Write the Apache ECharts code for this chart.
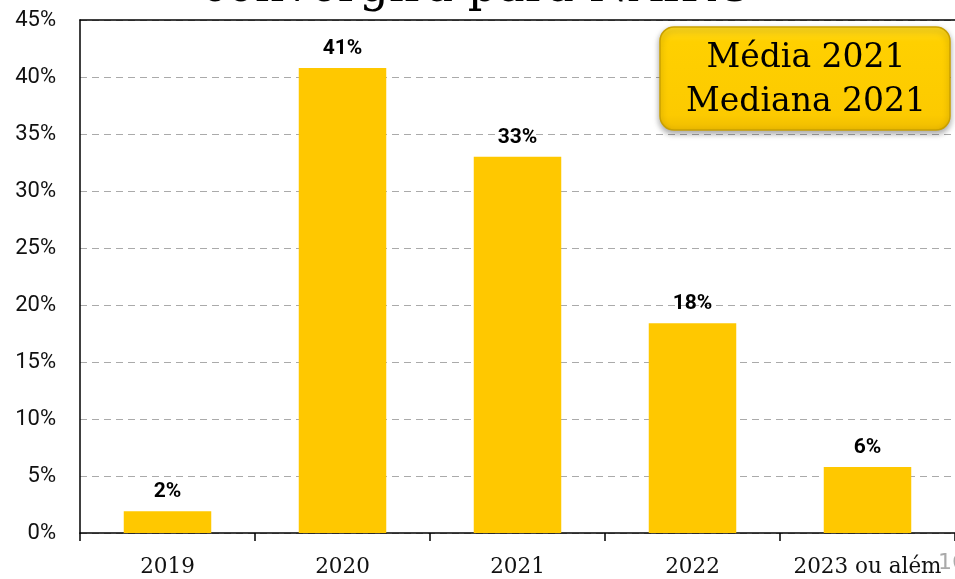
<!DOCTYPE html>
<html>
<head>
<meta charset="utf-8">
<script src="https://cdn.jsdelivr.net/npm/echarts@6/dist/echarts.min.js"></script>
<style>
  html, body { margin: 0; padding: 0; background: #fff; }
  #chart { width: 955px; height: 579px; }
</style>
</head>
<body>
<div id="chart"></div>
<script>
// anos e participação das respostas
var categories = ['2019', '2020', '2021', '2022', '2023 ou além']
var values = [1.9, 40.8, 33.0, 18.4, 5.8]
var labels = ['2%', '41%', '33%', '18%', '6%']
var yTicks = [0, 5, 10, 15, 20, 25, 30, 35, 40, 45]

var chart = echarts.init(document.getElementById('chart'))

var option = {
  animation: false,
  grid: {
    left: 80,
    right: -7,
    top: 20,
    bottom: 46
  },
  graphic: [
    {
      type: 'text',
      left: 'center',
      top: -34,
      style: {
        text: 'convergirá para NAIRU',
        font: '46px "DejaVu Serif"',
        fill: '#000'
      }
    },
    {
      type: 'rect',
      shape: { x: 660, y: 27, width: 290, height: 103, r: 14 },
      style: {
        fill: new echarts.graphic.LinearGradient(0, 0, 0, 1, [
          { offset: 0, color: '#ffda20' },
          { offset: 0.15, color: '#ffd000' },
          { offset: 0.85, color: '#fcca00' },
          { offset: 1, color: '#eebb00' }
        ]),
        stroke: '#c9a000',
        lineWidth: 1.5,
        shadowBlur: 6,
        shadowOffsetY: 3,
        shadowColor: 'rgba(0,0,0,0.35)'
      },
      z: 10
    },
    {
      type: 'text',
      x: 806,
      y: 80,
      style: {
        text: 'Média 2021\nMediana 2021',
        font: '33px "DejaVu Serif"',
        fill: '#000',
        align: 'center',
        verticalAlign: 'middle',
        lineHeight: 44
      },
      z: 11
    },
    {
      type: 'text',
      x: 938,
      y: 552,
      style: {
        text: '16',
        font: '22px "DejaVu Sans"',
        fill: '#aaa'
      },
      z: 0
    }
  ],
  xAxis: [
    {
      type: 'category',
      data: categories,
      axisLine: { lineStyle: { color: '#000', width: 1.5 } },
      axisTick: { show: true, interval: 0, length: 8, lineStyle: { color: '#000', width: 1.5 } },
      axisLabel: {
        interval: 0,
        color: '#111',
        fontFamily: 'DejaVu Serif',
        fontSize: 21.5,
        margin: 23
      }
    },
    {
      type: 'category',
      position: 'top',
      data: categories,
      axisLine: { lineStyle: { color: '#000', width: 1.5 } },
      axisTick: { show: false },
      axisLabel: { show: false }
    }
  ],
  yAxis: {
    type: 'value',
    min: 0,
    max: 45,
    interval: 5,
    axisLine: { show: true, lineStyle: { color: '#000', width: 1.5 } },
    axisTick: { show: false },
    axisLabel: {
      color: '#111',
      fontFamily: 'Roboto',
      fontSize: 22,
      margin: 24,
      formatter: function (v) {
        return yTicks.indexOf(v) >= 0 ? v + '%' : ''
      }
    },
    splitLine: { lineStyle: { color: '#aaa', type: [7, 5], width: 1 } }
  },
  series: [{
    type: 'bar',
    data: values,
    barWidth: '50%',
    itemStyle: { color: '#ffc800' },
    label: {
      show: true,
      position: 'top',
      distance: 9,
      color: '#000',
      fontFamily: 'Roboto',
      fontWeight: 'bold',
      fontSize: 21,
      formatter: function (p) {
        return labels[p.dataIndex]
      }
    }
  }]
}

chart.setOption(option)
</script>
</body>
</html>
